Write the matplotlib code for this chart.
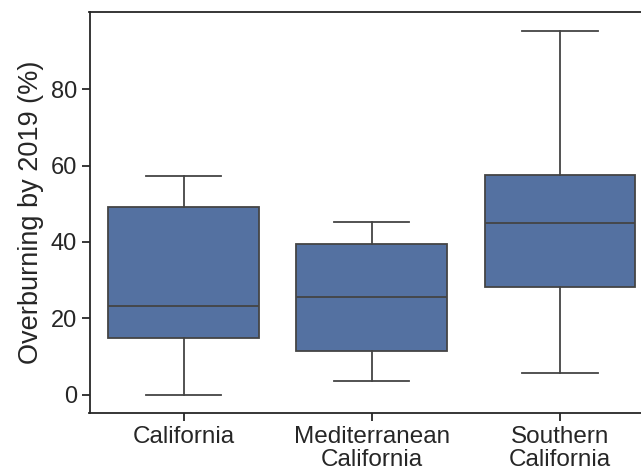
import matplotlib
matplotlib.use("Agg")
import matplotlib.pyplot as plt

plt.rcParams['font.family'] = ['Liberation Sans', 'DejaVu Sans']

regions = ["California", "Mediterranean\nCalifornia", "Southern\nCalifornia"]
whislo = [0.0, 3.5, 5.8]
q1 = [14.9, 11.4, 28.3]
med = [23.2, 25.7, 45.0]
q3 = [49.2, 39.4, 57.5]
whishi = [57.3, 45.3, 95.3]

stats = []
for i in range(len(regions)):
    stats.append(dict(label=regions[i], whislo=whislo[i], q1=q1[i], med=med[i],
                      q3=q3[i], whishi=whishi[i], fliers=[]))

fig = plt.figure(figsize=(6.41, 4.73), dpi=100)
ax = fig.add_axes([89.5/641, (473-413)/473, (654-89.5)/641, (413-12.5)/473])

edge = "#444444"
ax.bxp(stats, positions=range(len(regions)), widths=0.8, patch_artist=True, showfliers=False,
       boxprops=dict(facecolor="#5471a1", edgecolor=edge, linewidth=1.3),
       medianprops=dict(color=edge, linewidth=1.3),
       whiskerprops=dict(color=edge, linewidth=1.3),
       capprops=dict(color=edge, linewidth=1.3))

ax.set_xlim(-0.5, 2.5)
ax.set_ylim(-4.77, 100.07)
ax.set_yticks([0, 20, 40, 60, 80])
ax.set_ylabel("Overburning by 2019 (%)", fontsize=19.5, color="#262626", labelpad=5)
ax.tick_params(length=5.5, width=1.3, colors="#262626")
ax.tick_params(axis="y", labelsize=17)
ax.tick_params(axis="x", labelsize=17.5, pad=4)
ax.set_xticklabels(regions, linespacing=1.05)
for s in ax.spines.values():
    s.set_linewidth(1.3)
    s.set_color("#262626")

fig.savefig("out.png", dpi=100)
